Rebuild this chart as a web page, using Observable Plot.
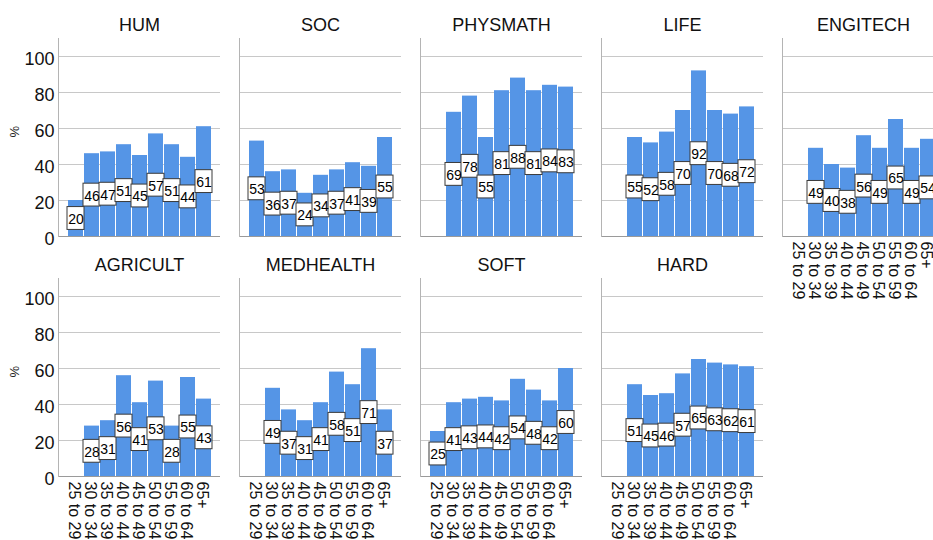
<!DOCTYPE html>
<html>
<head>
<meta charset="utf-8">
<script src="https://cdn.jsdelivr.net/npm/d3@7"></script>
<script src="https://cdn.jsdelivr.net/npm/@observablehq/plot@0.6"></script>
<style>
  body { margin: 0; background: #fff; }
  #chart { width: 933px; height: 540px; overflow: hidden; }
  #chart svg { max-width: none !important; height: 540px !important; }
</style>
</head>
<body>
<div id="chart"></div>
<script>
const ages = ["25 to 29","30 to 34","35 to 39","40 to 44","45 to 49","50 to 54","55 to 59","60 to 64","65+"];
const fields = ["HUM","SOC","PHYSMATH","LIFE","ENGITECH","AGRICULT","MEDHEALTH","SOFT","HARD"];
const hum       = [20,46,47,51,45,57,51,44,61];
const soc       = [53,36,37,24,34,37,41,39,55];
const physmath  = [null,69,78,55,81,88,81,84,83];
const life      = [null,55,52,58,70,92,70,68,72];
const engitech  = [null,49,40,38,56,49,65,49,54];
const agricult  = [null,28,31,56,41,53,28,55,43];
const medhealth = [null,49,37,31,41,58,51,71,37];
const soft      = [25,41,43,44,42,54,48,42,60];
const hard      = [null,51,45,46,57,65,63,62,61];
const yTicks = [0,20,40,60,80,100];

const series = [hum, soc, physmath, life, engitech, agricult, medhealth, soft, hard];
const data = [];
series.forEach((vals, i) => vals.forEach((v, j) => {
  if (v != null) data.push({field: fields[i], age: ages[j], value: v, col: i % 5, row: Math.floor(i / 5)});
}));
const panels = fields.map((f, i) => ({field: f, col: i % 5, row: Math.floor(i / 5)}));
const rowsLabel = [{col: 0, row: 0}, {col: 0, row: 1}];
const tickRows = [];
[0, 1].forEach(r => yTicks.forEach(t => tickRows.push({tick: t, col: 0, row: r})));
// x tick labels under the lowest panel of each column
const xTickRows = [];
panels.filter(p => p.row === 1 || !panels.some(q => q.col === p.col && q.row === p.row + 1))
  .forEach(p => ages.forEach(a => xTickRows.push({age: a, col: p.col, row: p.row})));

const half = 6.35;

const chart = Plot.plot({
  width: 950,
  height: 540,
  marginLeft: 57,
  marginRight: 5.75,
  marginTop: 38,
  marginBottom: 64,
  style: {fontFamily: "'Liberation Sans', Arial, sans-serif", color: "#000", background: "#fff"},
  fx: {domain: [0,1,2,3,4], axis: null, paddingInner: 0.105, paddingOuter: 0},
  fy: {domain: [0,1], axis: null, paddingInner: 0.175, paddingOuter: 0},
  x: {domain: ages, paddingInner: 0.085, paddingOuter: 0.48, label: null, axis: null},
  y: {domain: [0, 110], label: null, axis: null},
  marks: [
    Plot.gridY({ticks: yTicks.filter(d => d > 0), stroke: "#c8c8c8", strokeOpacity: 1}),
    Plot.barY(data, {fx: "col", fy: "row", x: "age", y: "value", fill: "#5595e6"}),
    Plot.ruleY([0], {stroke: "#9a9a9a"}),
    Plot.frame({anchor: "left", stroke: "#b4b4b4"}),
    Plot.barY(data, {fx: "col", fy: "row", x: "age", y1: d => d.value / 2 - half, y2: d => d.value / 2 + half,
      fill: "#fff", stroke: "#3a3a3a", strokeWidth: 1, insetLeft: -1, insetRight: -1}),
    Plot.text(data, {fx: "col", fy: "row", x: "age", y: d => d.value / 2, text: d => String(d.value),
      fontSize: 14, fill: "#000", dy: 1, ariaLabel: "value-labels"}),
    Plot.text(panels, {fx: "col", fy: "row", text: "field", frameAnchor: "top", lineAnchor: "bottom", dy: -8,
      fontSize: 18, fill: "#111", ariaLabel: "panel-titles"}),
    Plot.text(rowsLabel, {fx: "col", fy: "row", text: () => "%", frameAnchor: "left", dx: -43.5, rotate: -90,
      fontSize: 13, fill: "#222"}),
    Plot.text(tickRows, {fx: "col", fy: "row", y: "tick", text: d => String(d.tick), frameAnchor: "left",
      textAnchor: "end", dx: -4, dy: 3, fontSize: 18, fill: "#111", ariaLabel: "y-ticks"}),
    Plot.text(xTickRows, {fx: "col", fy: "row", x: "age", text: "age", frameAnchor: "bottom", rotate: 90,
      textAnchor: "start", lineAnchor: "middle", dx: -1.8, dy: 5, fontSize: 16, fill: "#111", ariaLabel: "x-ticks"})
  ]
});

// condense text glyphs to match the narrow lettering of the reference
function squeeze(selector, sx, sy) {
  chart.querySelectorAll(selector).forEach(t => {
    let tr = t.getAttribute("transform") || "";
    const x = t.getAttribute("x"), y = t.getAttribute("y");
    if (x != null || y != null) {
      tr = tr + ` translate(${x || 0},${y || 0})`;
      t.removeAttribute("x"); t.removeAttribute("y");
    }
    t.setAttribute("transform", (tr + ` scale(${sx},${sy})`).trim());
  });
}
squeeze('g[aria-label="value-labels"] text', 0.8, 1);
squeeze('g[aria-label="panel-titles"] text', 0.82, 1);
squeeze('g[aria-label="y-ticks"] text', 0.86, 1);
squeeze('g[aria-label="x-ticks"] text', 1, 0.84);

document.getElementById("chart").appendChild(chart);
</script>
</body>
</html>
